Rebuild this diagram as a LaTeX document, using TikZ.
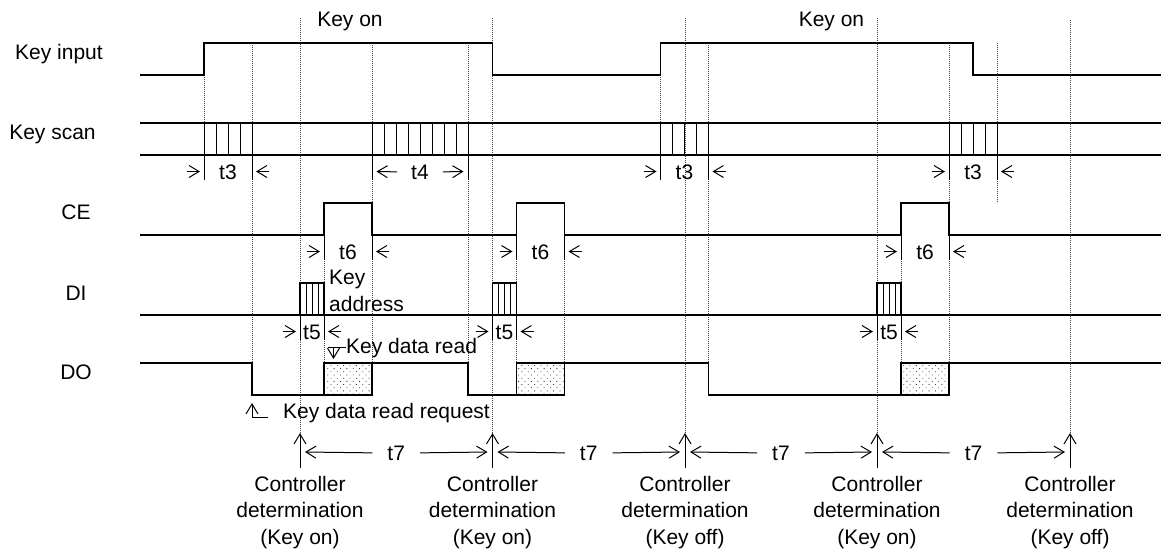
\documentclass[tikz,border=0pt]{standalone}
\usepackage{fontspec}
\setmainfont{Liberation Sans}
\usepackage{tikz}
\usetikzlibrary{arrows.meta, patterns.meta}

\begin{document}
\begin{tikzpicture}[x=1pt, y=-1pt,
	sig/.style={line width=1.3pt},
	thin/.style={line width=1pt},
	guide/.style={line width=0.8pt, dash pattern=on 0.8pt off 1.2pt, black!75},
	dim/.style={line width=1pt, -{Straight Barb[length=10pt, width=12pt]}},
	lbl/.style={font=\fontsize{21}{26.5}\selectfont, inner sep=0pt, anchor=base},
	dotbox/.style={sig, pattern={Dots[distance=4.5pt, angle=45, radius=0.6pt]}, pattern color=black!80}]
	\useasboundingbox (0,0) rectangle (1163,550);
	% dotted guides
	\foreach \x/\a/\b in {204/75/123, 252/43/363, 300/18/433, 324/203/363, 372/43/363, 468/43/363,
		492.5/18/433, 516.5/203/363, 564.5/203/363, 660.5/75/123, 685/18/433, 708.5/43/363,
		877/18/433, 901/203/363, 949/43/363, 997/43/203, 1070/20/433}
		\draw[guide] (\x,\a) -- (\x,\b);
	% signal names
	\node[lbl] (kin) at (59,59) {Key input};
	\node[lbl] (kscan) at (52.5,139) {Key scan};
	\node[lbl] (ce) at (76,219) {CE};
	\node[lbl] (di) at (76,300) {DI};
	\node[lbl] (do) at (76,379) {DO};
	\node[lbl] (keyon1) at (350,26.7) {Key on};
	\node[lbl] (keyon2) at (831.5,26.7) {Key on};
	% key input
	\draw[sig] (140,75) -- (204,75) -- (204,43) -- (492.5,43) -- (492.5,75) -- (660.5,75)
		-- (660.5,43) -- (973,43) -- (973,75) -- (1161,75);
	% key scan
	\draw[sig] (140,123) -- (1161,123);
	\draw[sig] (140,155) -- (1161,155);
	\foreach \s/\n in {204/4, 372/8, 660.5/4, 949/4}
		\foreach \i in {0,...,\n}
			\draw[thin] (\s+12*\i,123) -- (\s+12*\i,155);
	% CE
	\draw[sig] (140,235) -- (324,235) -- (324,203) -- (372,203) -- (372,235) -- (516.5,235)
		-- (516.5,203) -- (564.5,203) -- (564.5,235) -- (901,235) -- (901,203) -- (949,203)
		-- (949,235) -- (1161,235);
	% DI
	\draw[sig] (140,315) -- (1161,315);
	\foreach \s in {300, 492.5, 877} {
		\draw[sig] (\s,315) -- (\s,283) -- (\s+24,283) -- (\s+24,315);
		\foreach \i in {1,2,3}
			\draw[thin] (\s+6*\i,283) -- (\s+6*\i,315);
	}
	\node[lbl, anchor=north west, align=left] (kaddr) at (329,270) {Key\\address};
	% DO
	\draw[sig] (140,363) -- (252,363) -- (252,395) -- (324,395);
	\draw[sig] (372,363) -- (468,363) -- (468,395) -- (516.5,395);
	\draw[sig] (564.5,363) -- (708.5,363) -- (708.5,395) -- (901,395);
	\draw[sig] (949,363) -- (1161,363);
	\draw[dotbox] (324,363) rectangle (372,395);
	\draw[dotbox] (516.5,363) rectangle (564.5,395);
	\draw[dotbox] (901,363) rectangle (949,395);
	% time spans
	\foreach \a/\b/\y/\t/\n in {204/252/180/t3/ta, 660.5/708.5/180/t3/tb, 949/997/180/t3/tc,
		324/372/260/t6/td, 516.5/564.5/260/t6/te, 901/949/260/t6/tf,
		300/324/340/t5/tg, 492.5/516.5/340/t5/th, 877/901/340/t5/ti} {
		\draw[thin] (\a,\y-25) -- (\a,\y) (\b,\y-25) -- (\b,\y);
		\draw[dim] (\a-17,\y-8.5) -- (\a-4,\y-8.5);
		\draw[dim] (\b+17,\y-8.5) -- (\b+4,\y-8.5);
		\node[lbl] (\n) at ({(\a+\b)/2},\y-1) {\t};
	}
	\draw[thin] (372,155) -- (372,180) (468,155) -- (468,180);
	\node[lbl] (tfour) at (420,179) {t4};
	\draw[dim] ([xshift=-14pt]tfour.west) -- (376.5,171.5);
	\draw[dim] ([xshift=14pt]tfour.east) -- (463.5,171.5);
	% pointers
	\node[lbl, anchor=base west] (kdr) at (346,353) {Key data read};
	\coordinate (kdrtip) at (333.5,359);
	\draw[dim] (kdr.west) -| (kdrtip);
	\draw[thin] (kdrtip |- kdr.west) -- ++(-6,0);
	\node[lbl, anchor=base west] (kdrr) at (283,418) {Key data read request};
	\coordinate (reqtip) at (252,403);
	\draw[dim] ([xshift=-15pt, yshift=1pt]kdrr.base west) -| (reqtip);
	% controller determinations
	\foreach \x/\n/\k in {300/c1/on, 492.5/c2/on, 685/c3/off, 877/c4/on, 1070/c5/off} {
		\node[lbl, anchor=north, align=center] (\n) at (\x,476) {Controller\\determination\\(Key \k)};
		\coordinate (\n g) at (\x,433);
		\draw[dim] ([yshift=8pt]\n.north) -- (\n g);
	}
	\foreach \a/\b/\n in {300/492.5/sa, 492.5/685/sb, 685/877/sc, 877/1070/sd} {
		\node[lbl] (\n) at ({(\a+\b)/2},460) {t7};
		\draw[dim] ([xshift=-15pt]\n.west) -- (\a+5,452);
		\draw[dim] ([xshift=15pt]\n.east) -- (\b-5,452);
	}
\end{tikzpicture}
\end{document}
